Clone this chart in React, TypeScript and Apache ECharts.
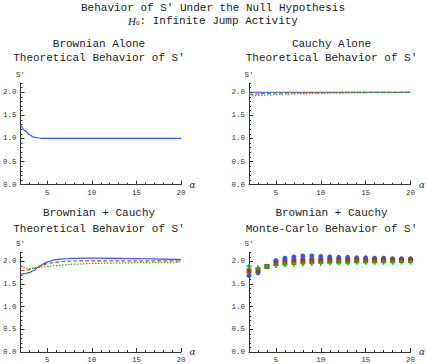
import React, { useEffect, useRef } from "react";
import * as echarts from "echarts";

const xTheory = [2, 2.5, 3, 3.5, 4, 4.5, 5, 6, 7, 8, 10, 12, 14, 16, 18, 20];
const tlBlue = [1.31, 1.17, 1.08, 1.03, 1.01, 1.0, 1.0, 1.0, 1.0, 1.0, 1.0, 1.0, 1.0, 1.0, 1.0, 1.0];
const trBlue = [2.0, 2.0, 2.0, 2.0, 2.0, 2.0, 2.0, 2.0, 2.0, 2.0, 2.0, 2.0, 2.0, 2.0, 2.0, 2.0];
const trRed = [1.955, 1.96, 1.965, 1.97, 1.975, 1.978, 1.98, 1.985, 1.988, 1.99, 1.993, 1.995, 1.997, 1.998, 1.999, 2.0];
const trGreen = [1.92, 1.925, 1.93, 1.935, 1.94, 1.945, 1.95, 1.958, 1.964, 1.97, 1.977, 1.982, 1.986, 1.99, 1.994, 1.997];
const blBlue = [1.72, 1.73, 1.76, 1.8, 1.87, 1.94, 1.99, 2.04, 2.06, 2.07, 2.075, 2.07, 2.065, 2.06, 2.05, 2.04];
const blRed = [1.8, 1.8, 1.82, 1.85, 1.89, 1.92, 1.95, 1.985, 2.0, 2.01, 2.015, 2.015, 2.015, 2.015, 2.015, 2.01];
const blGreen = [1.89, 1.86, 1.845, 1.85, 1.865, 1.88, 1.89, 1.91, 1.925, 1.94, 1.955, 1.965, 1.97, 1.975, 1.98, 1.99];

const xMC = [2, 3, 4, 5, 6, 7, 8, 9, 10, 11, 12, 13, 14, 15, 16, 17, 18, 19, 20];
const mcBlue = [1.69, 1.75, 1.89, 2.02, 2.07, 2.1, 2.12, 2.12, 2.11, 2.1, 2.09, 2.09, 2.08, 2.08, 2.07, 2.07, 2.06, 2.06, 2.06];
const mcRed = [1.79, 1.81, 1.89, 1.96, 1.99, 2.01, 2.02, 2.02, 2.02, 2.02, 2.02, 2.02, 2.02, 2.02, 2.02, 2.02, 2.02, 2.02, 2.02];
const mcGreen = [1.89, 1.86, 1.89, 1.91, 1.93, 1.94, 1.95, 1.96, 1.96, 1.97, 1.97, 1.97, 1.98, 1.98, 1.98, 1.98, 1.98, 1.99, 1.99];

const xMajor = [5, 10, 15, 20];
const yMajor = [0, 0.5, 1, 1.5, 2];

const mainTitle = "Behavior of S' Under the Null Hypothesis";
const subTitle = "Infinite Jump Activity";
const panelTitles = [
  ["Brownian Alone", "Theoretical Behavior of S'"],
  ["Cauchy Alone", "Theoretical Behavior of S'"],
  ["Brownian + Cauchy", "Theoretical Behavior of S'"],
  ["Brownian + Cauchy", "Monte-Carlo Behavior of S'"],
];

const BLUE = "#3355ff";
const RED = "#b9532a";
const GREEN = "#22aa22";
const MONO = "'Liberation Mono', 'DejaVu Sans Mono', monospace";
const AXC = "#333";

const pairs = (xs: number[], ys: number[]) => xs.map((x, i) => [x, ys[i]]);

export default function App() {
  const ref = useRef<HTMLDivElement>(null);
  useEffect(() => {
    document.body.style.margin = "0";
    if (!ref.current) return;
    const chart = echarts.init(ref.current, undefined, { renderer: "svg" });

    const grids = [
      { left: 17, width: 164, top: 83, height: 101.7 },
      { left: 249, width: 165, top: 83, height: 101.7 },
      { left: 17, width: 164, top: 252.4, height: 101.9 },
      { left: 249, width: 165, top: 252.4, height: 101.9 },
    ];
    const centers = [99, 331.5, 99, 331.5];
    const titleTops = [
      [38.5, 52],
      [38.5, 52],
      [207.5, 223],
      [207.5, 223],
    ];

    const xAxes: any[] = [];
    const yAxes: any[] = [];
    grids.forEach((_, i) => {
      xAxes.push({
        type: "value",
        gridIndex: i,
        position: "bottom",
        min: 2,
        max: 20,
        axisLine: { show: true, onZero: false, lineStyle: { color: AXC, width: 1 } },
        axisTick: { show: true, inside: true, length: 4, customValues: xMajor, lineStyle: { color: AXC } },
        axisLabel: { customValues: xMajor, fontSize: 7.5, fontFamily: MONO, color: AXC, margin: 4 },
        splitLine: { show: false },
        name: "α",
        nameLocation: "end",
        nameGap: 5,
        nameTextStyle: { fontStyle: "italic", fontFamily: "'DejaVu Serif', serif", fontSize: 9, color: AXC },
      });
      xAxes.push({
        type: "value",
        gridIndex: i,
        position: "bottom",
        min: 2,
        max: 20,
        interval: 1,
        axisLine: { show: false, onZero: false },
        axisTick: { show: true, inside: true, length: 2, lineStyle: { color: AXC } },
        axisLabel: { show: false },
        splitLine: { show: false },
      });
      yAxes.push({
        type: "value",
        gridIndex: i,
        position: "left",
        min: 0,
        max: 2.2,
        axisLine: { show: true, onZero: false, lineStyle: { color: AXC, width: 1 } },
        axisTick: { show: true, inside: true, length: 4, customValues: yMajor, lineStyle: { color: AXC } },
        axisLabel: {
          customValues: yMajor,
          fontSize: 7.5,
          fontFamily: MONO,
          color: AXC,
          margin: 4,
          formatter: (v: number) => v.toFixed(1),
        },
        splitLine: { show: false },
        name: "S'",
        nameLocation: "end",
        nameGap: 4,
        nameTextStyle: { fontFamily: MONO, fontSize: 7.5, color: AXC, align: "center" },
      });
      yAxes.push({
        type: "value",
        gridIndex: i,
        position: "left",
        min: 0,
        max: 2.2,
        interval: 0.1,
        axisLine: { show: false, onZero: false },
        axisTick: { show: true, inside: true, length: 2, lineStyle: { color: AXC } },
        axisLabel: { show: false },
        splitLine: { show: false },
      });
    });

    const line = (g: number, xs: number[], ys: number[], color: string, type: any) => ({
      type: "line",
      xAxisIndex: 2 * g,
      yAxisIndex: 2 * g,
      data: pairs(xs, ys),
      smooth: 0.4,
      smoothMonotone: "x",
      showSymbol: false,
      symbol: "none",
      lineStyle: { color, width: 1.2, type },
      z: 3,
    });
    const scatter = (xs: number[], ys: number[], color: string, symbol: string, size: number) => ({
      type: "scatter",
      xAxisIndex: 6,
      yAxisIndex: 6,
      data: pairs(xs, ys),
      symbol,
      symbolSize: size,
      itemStyle: { color, opacity: 1 },
      z: 3,
    });

    const titles: any[] = [
      {
        text: mainTitle,
        left: 213,
        top: 2,
        textAlign: "center",
        padding: 0,
        textStyle: { fontFamily: MONO, fontSize: 11, fontWeight: "normal", color: "#222" },
      },
      {
        text: "{i|H}{s|0}{n|: " + subTitle + "}",
        left: 213,
        top: 15,
        textAlign: "center",
        padding: 0,
        textStyle: {
          fontFamily: MONO,
          fontSize: 11,
          fontWeight: "normal",
          color: "#222",
          rich: {
            i: { fontFamily: "'Liberation Serif', serif", fontStyle: "italic", fontWeight: "normal", fontSize: 11, color: "#222" },
            s: { fontFamily: "'Liberation Serif', serif", fontWeight: "normal", fontSize: 7, color: "#222", verticalAlign: "bottom", padding: [4, 0, 0, 0] },
            n: { fontFamily: MONO, fontWeight: "normal", fontSize: 11, color: "#222" },
          },
        },
      },
    ];
    panelTitles.forEach((t, i) => {
      t.forEach((s, j) => {
        titles.push({
          text: s,
          left: centers[i],
          top: titleTops[i][j],
          textAlign: "center",
          padding: 0,
          textStyle: { fontFamily: MONO, fontSize: 11, fontWeight: "normal", color: "#222" },
        });
      });
    });

    chart.setOption({
      animation: false,
      backgroundColor: "#fff",
      title: titles,
      grid: grids,
      xAxis: xAxes,
      yAxis: yAxes,
      series: [
        line(0, xTheory, tlBlue, BLUE, "solid"),
        line(1, xTheory, trBlue, BLUE, "solid"),
        line(1, xTheory, trRed, RED, [4, 2]),
        line(1, xTheory, trGreen, GREEN, [1.5, 1.5]),
        line(2, xTheory, blBlue, BLUE, "solid"),
        line(2, xTheory, blRed, RED, [4, 2]),
        line(2, xTheory, blGreen, GREEN, [1.5, 1.5]),
        scatter(xMC, mcBlue, BLUE, "circle", 5),
        scatter(xMC, mcRed, "#a83a14", "rect", 5),
        scatter(xMC, mcGreen, GREEN, "path://M1 0H2V1H3V2H2V3H1V2H0V1H1Z", 5),
      ],
    });
    return () => chart.dispose();
  }, []);
  return <div ref={ref} style={{ width: 426, height: 364 }} />;
}
